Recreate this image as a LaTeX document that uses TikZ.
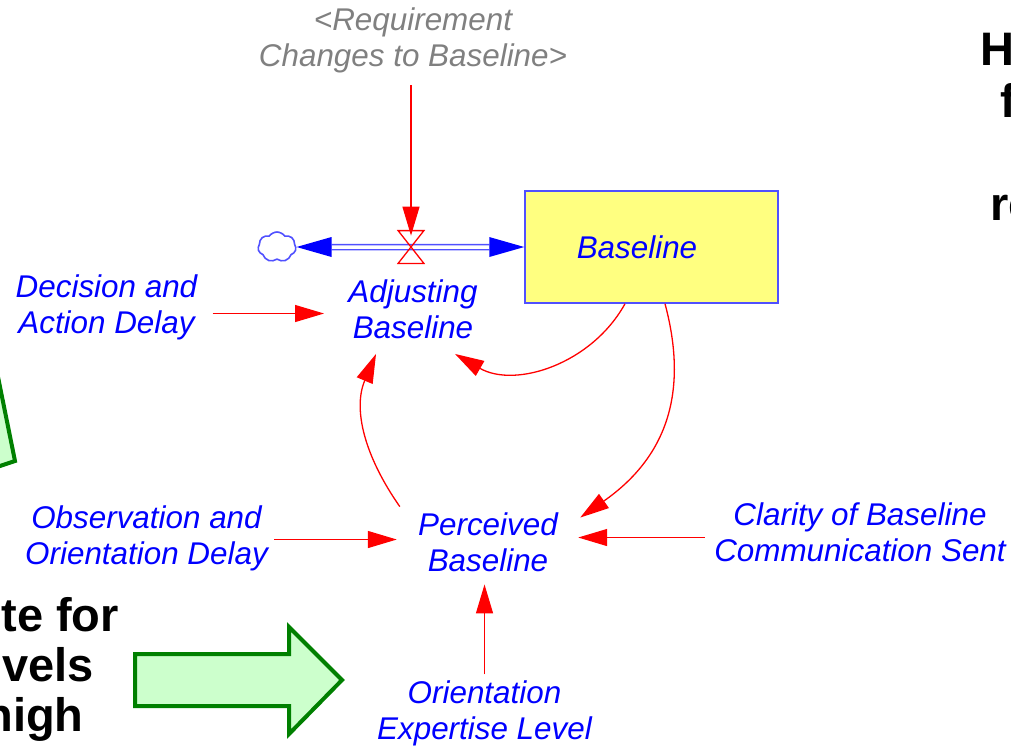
\documentclass[tikz,border=0pt]{standalone}
\usepackage{fontspec}
\setmainfont{Liberation Sans}
\usetikzlibrary{arrows.meta,shapes.symbols}

\definecolor{varblue}{RGB}{0,0,255}
\definecolor{linkred}{RGB}{255,0,0}
\definecolor{pipeblue}{RGB}{80,80,255}
\definecolor{stockfill}{RGB}{255,255,128}
\definecolor{shadowgray}{RGB}{128,128,128}
\definecolor{arrowfill}{RGB}{204,255,204}
\definecolor{arrowline}{RGB}{0,128,0}

\begin{document}
\begin{tikzpicture}[x=0.5pt, y=-0.5pt,
    every node/.style={font=\fontsize{15.7}{18}\selectfont\itshape},
    var/.style={text=varblue, align=center, inner sep=3pt},
    link/.style={draw=linkred, line width=0.65pt, -{Triangle[length=14.5pt,width=8.5pt]}},
    pipe/.style={draw=pipeblue, line width=0.75pt, double=white, double distance=1.75pt},
    stockbox/.style={draw=pipeblue, fill=stockfill, line width=0.75pt, minimum width=126.5pt, minimum height=56pt},
    valvebox/.style={minimum width=12.5pt, minimum height=16pt, inner sep=0pt},
    sourcecloud/.style={cloud, draw=pipeblue, line width=0.8pt, cloud puffs=7, cloud puff arc=110, aspect=1.3, minimum width=19pt, minimum height=15pt, inner sep=0pt},
    slidetext/.style={font=\fontsize{23.5}{26}\selectfont\bfseries, inner sep=0pt},
    blockarrow/.style={fill=arrowfill, draw=arrowline, line width=2pt, line join=miter}]
    \useasboundingbox (0,0) rectangle (1011,746);
    \clip (0,0) rectangle (1011,746);

    % block arrows and the slide text around the model
    \draw[blockarrow] (-3,372) -- (15,461) -- (-30,476) -- (-30,372) -- cycle;
    \draw[blockarrow] (135,654) -- (289,654) -- (289,627) -- (342,680) -- (289,734) -- (289,706) -- (135,706) -- cycle;
    \foreach \frag/\fx/\fy/\anc [count=\i] in {te for/1/631/base west, vels/2/681/base west, high/84/731/base east,
                                              H/980/65/base west, f/1000/117/base west, re/990/220/base west}{
        \node[slidetext, anchor=\anc] (frag\i) at (\fx,\fy) {\frag};
    }

    % stock and flow
    \node[stockbox, label={[var, xshift=-7.25pt]center:Baseline}] (stock) at (651.5,247) {};
    \node[sourcecloud] (src) at (277,247) {};
    \node[valvebox] (valve) at (411,247) {};
    \draw[pipe, shorten <=17.5pt, shorten >=17.5pt] (src.east) -- (stock.west);
    \fill[varblue] (stock.west) -- ++(-35,-10) -- ++(0,20) -- cycle;
    \fill[varblue] (src.east) -- ++(35,-10) -- ++(0,20) -- cycle;
    \draw[linkred, line width=0.65pt] (valve.north west) -- (valve.north east) -- (valve.south west) -- (valve.south east) -- cycle;

    % auxiliaries
    \node[var, text=shadowgray] (req) at (413,40) {<Requirement\\Changes to Baseline>};
    \node[var] (adj) at (413,309.5) {Adjusting\\Baseline};
    \node[var] (dad) at (106.5,307.5) {Decision and\\Action Delay};
    \node[var] (perc) at (488,542.5) {Perceived\\Baseline};
    \node[var] (ood) at (146.5,538.5) {Observation and\\Orientation Delay};
    \node[var] (clar) at (860,532.5) {Clarity of Baseline\\Communication Sent};
    \node[var] (oel) at (484.5,713.5) {Orientation\\Expertise Level};

    % causal links
    \draw[link, shorten <=3pt, shorten >=-2.5pt] (req.south -| valve) -- (valve.north);
    \draw[link, shorten <=4.5pt, shorten >=9pt] ([yshift=-3pt]dad.east) -- ([yshift=-3pt]dad.east -| adj.west);
    \draw[link] ([xshift=-13.25pt]stock.south) to[out=-119, in=-30] ([shift={(-14.5pt,-4.25pt)}]adj.south east);
    \draw[link] ([xshift=6.75pt]stock.south) to[out=-75, in=35, looseness=1.1] ([shift={(8pt,-5.5pt)}]perc.north east);
    \draw[link] ([xshift=-6pt]perc.north west) to[out=125, in=-113] ([shift={(17pt,-4.25pt)}]adj.south west);
    \draw[link, shorten >=7.5pt] ([yshift=-0.5pt]ood.east) -- ([yshift=-0.5pt]ood.east -| perc.west);
    \draw[link, shorten <=1.5pt, shorten >=7pt] ([yshift=-2.5pt]clar.west) -- ([yshift=-2.5pt]clar.west -| perc.east);
    \draw[link, shorten >=3pt] (oel.north) -- (oel.north |- perc.south);
\end{tikzpicture}
\end{document}
